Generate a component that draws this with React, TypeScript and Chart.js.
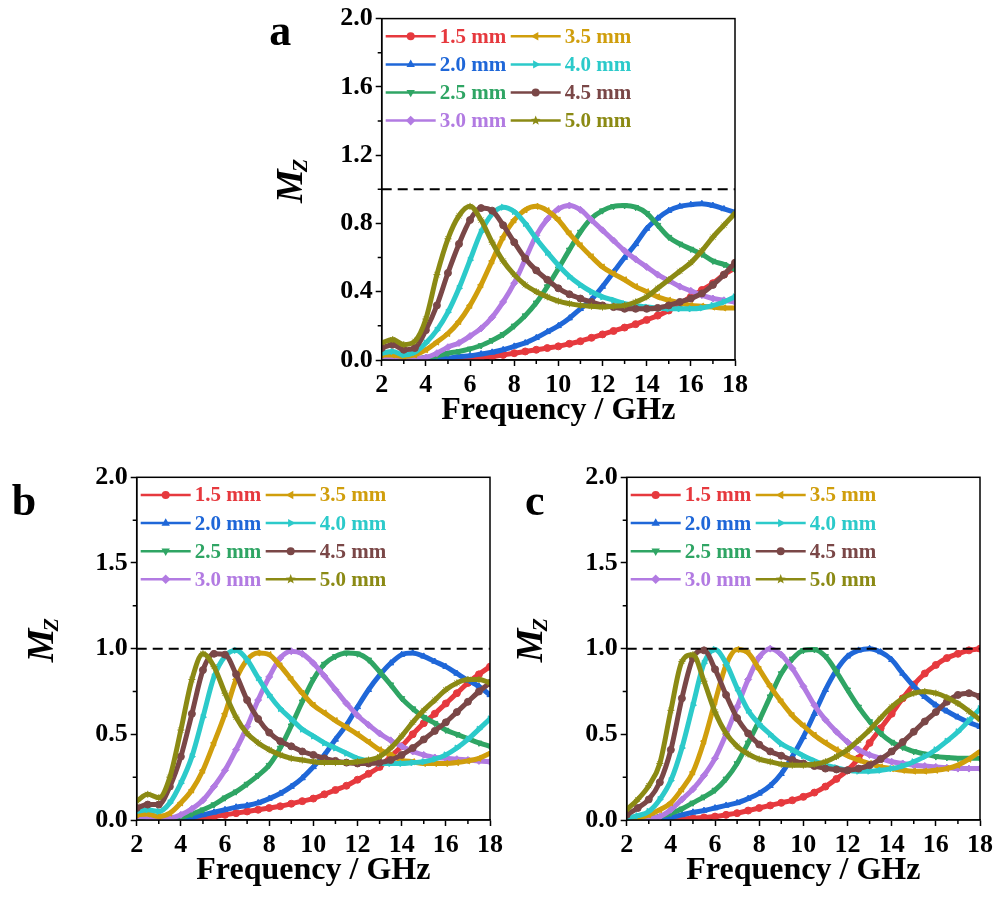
import React, { useEffect, useRef } from 'react';
import { Chart, registerables } from 'chart.js';

Chart.register(...registerables);

const SERIF = "'Times New Roman', 'Liberation Serif', serif";

// Frequency grid (GHz)
const FREQ_GHZ = [
  2, 2.5, 3, 3.5, 4, 4.5, 5, 5.5, 6, 6.5, 7, 7.5, 8, 8.5, 9, 9.5, 10,
  10.5, 11, 11.5, 12, 12.5, 13, 13.5, 14, 14.5, 15, 15.5, 16, 16.5, 17, 17.5, 18,
];

const THICKNESS_LABELS = ['1.5 mm', '2.0 mm', '2.5 mm', '3.0 mm', '3.5 mm', '4.0 mm', '4.5 mm', '5.0 mm'];

const X_MIN = 2;
const X_MAX = 18;
const Y_MIN = 0;
const Y_MAX = 2;

// Reference level Mz = 1
const UNITY_LINE_X = [2, 18];
const UNITY_LINE_Y = [1, 1];

// Panel a
const A_15 = [0, 0, 0, 0, 0, 0, 0.005, 0.008, 0.012, 0.016, 0.02, 0.03, 0.04, 0.05, 0.06, 0.07, 0.08, 0.095, 0.11, 0.13, 0.15, 0.17, 0.19, 0.21, 0.235, 0.26, 0.29, 0.33, 0.37, 0.41, 0.45, 0.5, 0.54];
const A_20 = [0, 0, 0, 0, 0, 0.005, 0.01, 0.02, 0.025, 0.035, 0.045, 0.06, 0.08, 0.1, 0.13, 0.165, 0.2, 0.245, 0.3, 0.355, 0.43, 0.515, 0.6, 0.68, 0.77, 0.83, 0.875, 0.9, 0.91, 0.915, 0.905, 0.885, 0.865];
const A_25 = [0.01, 0.01, 0, 0.005, 0.015, 0.025, 0.04, 0.05, 0.065, 0.085, 0.115, 0.15, 0.2, 0.26, 0.335, 0.43, 0.535, 0.645, 0.75, 0.83, 0.875, 0.9, 0.905, 0.895, 0.86, 0.79, 0.72, 0.68, 0.65, 0.62, 0.58, 0.56, 0.53];
const A_30 = [0.02, 0.015, 0.01, 0.01, 0.015, 0.04, 0.075, 0.1, 0.14, 0.185, 0.25, 0.34, 0.45, 0.59, 0.73, 0.825, 0.885, 0.905, 0.88, 0.82, 0.76, 0.7, 0.64, 0.59, 0.545, 0.5, 0.465, 0.43, 0.405, 0.38, 0.36, 0.35, 0.34];
const A_35 = [0.03, 0.03, 0.02, 0.03, 0.06, 0.105, 0.155, 0.225, 0.32, 0.44, 0.58, 0.72, 0.82, 0.88, 0.9, 0.875, 0.82, 0.74, 0.67, 0.605, 0.545, 0.505, 0.47, 0.43, 0.4, 0.37, 0.35, 0.335, 0.32, 0.315, 0.31, 0.305, 0.305];
const A_40 = [0.04, 0.05, 0.03, 0.045, 0.1, 0.175, 0.28, 0.42, 0.585, 0.75, 0.855, 0.895, 0.87, 0.8, 0.71, 0.63, 0.555, 0.49, 0.44, 0.4, 0.37, 0.35, 0.33, 0.32, 0.31, 0.305, 0.3, 0.3, 0.3, 0.305, 0.32, 0.34, 0.37];
const A_45 = [0.07, 0.09, 0.06, 0.07, 0.175, 0.32, 0.51, 0.68, 0.82, 0.89, 0.875, 0.79, 0.69, 0.595, 0.525, 0.47, 0.42, 0.385, 0.36, 0.34, 0.32, 0.31, 0.3, 0.3, 0.3, 0.305, 0.32, 0.34, 0.36, 0.39, 0.44, 0.5, 0.57];
const A_50 = [0.1, 0.12, 0.09, 0.11, 0.24, 0.5, 0.71, 0.845, 0.9, 0.82, 0.69, 0.58, 0.5, 0.44, 0.4, 0.37, 0.345, 0.33, 0.32, 0.315, 0.31, 0.315, 0.32, 0.34, 0.37, 0.42, 0.47, 0.52, 0.57, 0.64, 0.72, 0.79, 0.86];

// Panel b
const B_15 = [0, 0, 0, 0, 0, 0.005, 0.01, 0.02, 0.03, 0.04, 0.05, 0.06, 0.07, 0.08, 0.095, 0.11, 0.125, 0.15, 0.175, 0.2, 0.235, 0.27, 0.31, 0.37, 0.43, 0.5, 0.565, 0.62, 0.68, 0.74, 0.8, 0.85, 0.895];
const B_20 = [0, 0, 0, 0, 0.005, 0.015, 0.03, 0.045, 0.06, 0.075, 0.085, 0.1, 0.125, 0.155, 0.195, 0.245, 0.31, 0.38, 0.47, 0.555, 0.66, 0.76, 0.845, 0.915, 0.965, 0.975, 0.955, 0.925, 0.895, 0.855, 0.815, 0.78, 0.73];
const B_25 = [0.01, 0.01, 0, 0.005, 0.015, 0.035, 0.06, 0.09, 0.13, 0.165, 0.21, 0.26, 0.32, 0.42, 0.55, 0.69, 0.82, 0.91, 0.955, 0.975, 0.97, 0.935, 0.865, 0.79, 0.71, 0.65, 0.6, 0.565, 0.525, 0.5, 0.475, 0.45, 0.43];
const B_30 = [0.02, 0.015, 0.005, 0.01, 0.03, 0.065, 0.115, 0.195, 0.29, 0.41, 0.545, 0.7, 0.835, 0.945, 0.985, 0.97, 0.915, 0.84, 0.76, 0.68, 0.61, 0.555, 0.505, 0.465, 0.43, 0.4, 0.38, 0.365, 0.36, 0.355, 0.35, 0.345, 0.34];
const B_35 = [0.03, 0.035, 0.02, 0.04, 0.1, 0.175, 0.29, 0.45, 0.62, 0.82, 0.935, 0.975, 0.965, 0.9, 0.82, 0.74, 0.67, 0.625, 0.58, 0.54, 0.5, 0.455, 0.41, 0.38, 0.35, 0.34, 0.33, 0.33, 0.33, 0.335, 0.345, 0.36, 0.39];
const B_40 = [0.05, 0.06, 0.05, 0.1, 0.215, 0.37, 0.6, 0.835, 0.955, 0.99, 0.935, 0.83, 0.73, 0.65, 0.59, 0.53, 0.49, 0.45, 0.42, 0.39, 0.36, 0.345, 0.33, 0.33, 0.33, 0.335, 0.34, 0.355, 0.38, 0.42, 0.47, 0.53, 0.59];
const B_45 = [0.07, 0.09, 0.09, 0.195, 0.37, 0.62, 0.875, 0.97, 0.965, 0.85, 0.7, 0.59, 0.51, 0.46, 0.43, 0.4, 0.38, 0.36, 0.345, 0.335, 0.33, 0.33, 0.335, 0.35, 0.38, 0.42, 0.47, 0.52, 0.57, 0.63, 0.69, 0.75, 0.8];
const B_50 = [0.11, 0.15, 0.13, 0.25, 0.525, 0.82, 0.97, 0.895, 0.74, 0.6, 0.505, 0.45, 0.41, 0.38, 0.36, 0.35, 0.34, 0.335, 0.335, 0.335, 0.34, 0.35, 0.37, 0.42, 0.49, 0.57, 0.64, 0.7, 0.76, 0.8, 0.82, 0.82, 0.8];

// Panel c
const C_15 = [0, 0, 0, 0, 0.002, 0.005, 0.01, 0.015, 0.02, 0.03, 0.04, 0.055, 0.07, 0.085, 0.1, 0.115, 0.135, 0.16, 0.195, 0.24, 0.29, 0.36, 0.45, 0.535, 0.62, 0.71, 0.79, 0.855, 0.905, 0.945, 0.97, 0.99, 1.0];
const C_20 = [0, 0, 0, 0.005, 0.015, 0.03, 0.045, 0.055, 0.07, 0.085, 0.1, 0.125, 0.155, 0.2, 0.27, 0.37, 0.485, 0.62, 0.76, 0.875, 0.955, 0.99, 1.0, 0.98, 0.935, 0.855, 0.78, 0.72, 0.67, 0.635, 0.6, 0.57, 0.545];
const C_25 = [0, 0.005, 0.01, 0.02, 0.04, 0.065, 0.1, 0.135, 0.175, 0.24, 0.33, 0.45, 0.58, 0.72, 0.855, 0.94, 0.99, 0.995, 0.955, 0.865, 0.76, 0.66, 0.575, 0.505, 0.455, 0.425, 0.4, 0.385, 0.37, 0.365, 0.36, 0.36, 0.36];
const C_30 = [0, 0.005, 0.01, 0.02, 0.06, 0.12, 0.18, 0.26, 0.36, 0.5, 0.66, 0.82, 0.95, 1.0, 0.965, 0.885, 0.78, 0.67, 0.585, 0.515, 0.455, 0.41, 0.38, 0.36, 0.34, 0.33, 0.32, 0.315, 0.31, 0.305, 0.3, 0.3, 0.3];
const C_35 = [0, 0.01, 0.03, 0.06, 0.1, 0.18, 0.28, 0.46, 0.69, 0.905, 0.995, 0.975, 0.88, 0.78, 0.69, 0.61, 0.55, 0.495, 0.45, 0.41, 0.375, 0.35, 0.33, 0.31, 0.3, 0.29, 0.285, 0.285, 0.29, 0.3, 0.32, 0.355, 0.4];
const C_40 = [0.01, 0.025, 0.05, 0.12, 0.23, 0.42, 0.67, 0.915, 0.995, 0.915, 0.77, 0.64, 0.56, 0.5, 0.445, 0.41, 0.375, 0.345, 0.32, 0.305, 0.29, 0.285, 0.285, 0.29, 0.3, 0.315, 0.34, 0.37, 0.41, 0.46, 0.515, 0.58, 0.65];
const C_45 = [0.03, 0.07, 0.12, 0.22, 0.41, 0.71, 0.945, 0.99, 0.88, 0.73, 0.595, 0.505, 0.44, 0.4, 0.375, 0.35, 0.33, 0.315, 0.3, 0.295, 0.29, 0.3, 0.32, 0.355, 0.4, 0.455, 0.515, 0.575, 0.63, 0.69, 0.73, 0.74, 0.72];
const C_50 = [0.06, 0.12, 0.2, 0.33, 0.64, 0.925, 0.965, 0.81, 0.63, 0.505, 0.43, 0.385, 0.355, 0.34, 0.325, 0.32, 0.32, 0.325, 0.34, 0.37, 0.41, 0.465, 0.525, 0.595, 0.66, 0.71, 0.74, 0.75, 0.74, 0.715, 0.68, 0.635, 0.585];

const PANEL_A = [A_15, A_20, A_25, A_30, A_35, A_40, A_45, A_50];
const PANEL_B = [B_15, B_20, B_25, B_30, B_35, B_40, B_45, B_50];
const PANEL_C = [C_15, C_20, C_25, C_30, C_35, C_40, C_45, C_50];

// Series styling
const SERIES_COLORS = ['#E6393E', '#1F67D8', '#2FA564', '#B27BE2', '#D09E0C', '#2CCACA', '#7A4747', '#8B8A14'];
const SERIES_MARKERS = [
  { style: 'circle', rotation: 0 },
  { style: 'triangle', rotation: 0 },
  { style: 'triangle', rotation: 180 },
  { style: 'rectRot', rotation: 0 },
  { style: 'triangle', rotation: -90 },
  { style: 'triangle', rotation: 90 },
  { style: 'circle', rotation: 0 },
  { style: 'star', rotation: 0 },
];

type PanelSpec = {
  letter: string;
  series: number[][];
  yStep: number;
  left: number;
  top: number;
  width: number;
  height: number;
  axisWidth: number;
  padTop: number;
  padRight: number;
  titleOffset: number;
  letterX: number;
  letterY: number;
};

const PANELS: PanelSpec[] = [
  { letter: 'a', series: PANEL_A, yStep: 0.4, left: 250, top: 0, width: 510, height: 450, axisWidth: 131.7, padTop: 17.3, padRight: 25, titleOffset: 80, letterX: 19.3, letterY: 45 },
  { letter: 'b', series: PANEL_B, yStep: 0.5, left: 0, top: 455, width: 510, height: 455, axisWidth: 136.7, padTop: 22.3, padRight: 20, titleOffset: 83.5, letterX: 11.7, letterY: 60 },
  { letter: 'c', series: PANEL_C, yStep: 0.5, left: 500, top: 455, width: 498, height: 455, axisWidth: 126.7, padTop: 22.3, padRight: 18, titleOffset: 84.5, letterX: 25, letterY: 60 },
];

function drawMarker(ctx: CanvasRenderingContext2D, style: string, rotation: number, x: number, y: number, r: number) {
  ctx.save();
  ctx.translate(x, y);
  ctx.rotate((rotation * Math.PI) / 180);
  ctx.beginPath();
  if (style === 'circle') {
    ctx.arc(0, 0, r, 0, Math.PI * 2);
  } else if (style === 'triangle') {
    ctx.moveTo(0, -r * 1.2);
    ctx.lineTo(r * 1.05, r * 0.65);
    ctx.lineTo(-r * 1.05, r * 0.65);
    ctx.closePath();
  } else if (style === 'rectRot') {
    ctx.moveTo(0, -r * 1.2);
    ctx.lineTo(r * 1.2, 0);
    ctx.lineTo(0, r * 1.2);
    ctx.lineTo(-r * 1.2, 0);
    ctx.closePath();
  } else {
    for (let k = 0; k < 10; k++) {
      const ang = -Math.PI / 2 + (k * Math.PI) / 5;
      const rr = k % 2 === 0 ? r * 1.3 : r * 0.55;
      const px = Math.cos(ang) * rr;
      const py = Math.sin(ang) * rr;
      if (k === 0) ctx.moveTo(px, py);
      else ctx.lineTo(px, py);
    }
    ctx.closePath();
  }
  ctx.fill();
  ctx.restore();
}

function makeDecorPlugin(spec: PanelSpec) {
  return {
    id: 'panelDecor',
    afterDraw(chart: any) {
      const { ctx, chartArea: a, scales } = chart;
      const xs = scales.x;
      const ys = scales.y;
      ctx.save();

      // plot frame
      ctx.strokeStyle = '#000';
      ctx.lineWidth = 1.5;
      ctx.strokeRect(a.left, a.top, a.right - a.left, a.bottom - a.top);

      // minor ticks
      ctx.beginPath();
      for (let v = X_MIN + 1; v < X_MAX; v += 2) {
        const px = xs.getPixelForValue(v);
        ctx.moveTo(px, a.bottom);
        ctx.lineTo(px, a.bottom + 4);
      }
      const half = spec.yStep / 2;
      for (let v = half; v < Y_MAX; v += spec.yStep) {
        const py = ys.getPixelForValue(v);
        ctx.moveTo(a.left, py);
        ctx.lineTo(a.left - 4, py);
      }
      ctx.stroke();

      // legend: two columns of four entries
      ctx.font = `bold 21px ${SERIF}`;
      ctx.textAlign = 'left';
      ctx.textBaseline = 'middle';
      THICKNESS_LABELS.forEach((label, i) => {
        const col = Math.floor(i / 4);
        const row = i % 4;
        const x0 = a.left + (col === 0 ? 4 : 129);
        const x1 = x0 + 50;
        const y = a.top + 17.7 + row * 28.1;
        const color = SERIES_COLORS[i];
        ctx.strokeStyle = color;
        ctx.fillStyle = color;
        ctx.lineWidth = 2.5;
        ctx.beginPath();
        ctx.moveTo(x0, y);
        ctx.lineTo(x1, y);
        ctx.stroke();
        drawMarker(ctx, SERIES_MARKERS[i].style, SERIES_MARKERS[i].rotation, (x0 + x1) / 2, y, 4);
        ctx.fillText(label, x1 + 4, y + 1);
      });

      // y-axis title: M with subscript Z
      ctx.fillStyle = '#000';
      ctx.save();
      ctx.translate(a.left - spec.titleOffset, (a.top + a.bottom) / 2 - 10);
      ctx.rotate(-Math.PI / 2);
      ctx.textBaseline = 'alphabetic';
      ctx.textAlign = 'left';
      ctx.font = `italic bold 38px ${SERIF}`;
      const wM = ctx.measureText('M').width;
      ctx.font = `italic bold 22px ${SERIF}`;
      const wZ = ctx.measureText('Z').width;
      const start = -(wM + wZ) / 2;
      ctx.font = `italic bold 38px ${SERIF}`;
      ctx.fillText('M', start, 0);
      ctx.font = `italic bold 22px ${SERIF}`;
      ctx.fillText('Z', start + wM - 3, 5);
      ctx.restore();

      // panel letter
      ctx.font = `bold 44px ${SERIF}`;
      ctx.textBaseline = 'alphabetic';
      ctx.textAlign = 'left';
      ctx.fillText(spec.letter, spec.letterX, spec.letterY);

      ctx.restore();
    },
  };
}

function Panel({ spec }: { spec: PanelSpec }) {
  const ref = useRef<HTMLCanvasElement | null>(null);

  useEffect(() => {
    const canvas = ref.current;
    if (!canvas) return;

    const datasets: any[] = spec.series.map((vals, i) => ({
      label: THICKNESS_LABELS[i],
      data: FREQ_GHZ.map((f, k) => ({ x: f, y: vals[k] })),
      borderColor: SERIES_COLORS[i],
      backgroundColor: SERIES_COLORS[i],
      borderWidth: 5,
      pointStyle: SERIES_MARKERS[i].style,
      pointRotation: SERIES_MARKERS[i].rotation,
      pointRadius: 3.5,
      pointBorderWidth: 1,
      pointBackgroundColor: SERIES_COLORS[i],
      pointBorderColor: SERIES_COLORS[i],
      cubicInterpolationMode: 'monotone',
      order: 7 - i,
    }));
    datasets.push({
      label: 'Mz = 1',
      data: UNITY_LINE_X.map((x, k) => ({ x, y: UNITY_LINE_Y[k] })),
      borderColor: '#000',
      borderWidth: 2,
      borderDash: [10, 6],
      pointRadius: 0,
      order: -1,
    });

    const tickFont = { family: SERIF, size: 26, weight: 'bold' as const };

    const chart = new Chart(canvas, {
      type: 'line',
      data: { datasets },
      plugins: [makeDecorPlugin(spec)],
      options: {
        animation: false,
        responsive: false,
        devicePixelRatio: 1,
        layout: { padding: { top: spec.padTop, right: spec.padRight, left: 0, bottom: 0 } },
        plugins: { legend: { display: false }, tooltip: { enabled: false } },
        scales: {
          x: {
            type: 'linear',
            position: 'bottom',
            min: X_MIN,
            max: X_MAX,
            afterFit: (s: any) => {
              s.height = 90;
            },
            ticks: {
              stepSize: 2,
              autoSkip: false,
              maxRotation: 0,
              padding: 4,
              color: '#000',
              font: tickFont,
              callback: (v: any) => String(v),
            },
            grid: {
              drawOnChartArea: false,
              drawTicks: true,
              tickLength: 6,
              tickWidth: 1.5,
              tickColor: '#000',
              color: '#000',
            },
            border: { display: true, color: '#000', width: 1.5 },
            title: {
              display: true,
              text: 'Frequency / GHz',
              color: '#000',
              font: { family: SERIF, size: 32, weight: 'bold' },
              padding: { top: 0, bottom: 20 },
            },
          },
          y: {
            type: 'linear',
            position: 'left',
            min: Y_MIN,
            max: Y_MAX,
            afterFit: (s: any) => {
              s.width = spec.axisWidth;
            },
            ticks: {
              stepSize: spec.yStep,
              autoSkip: false,
              padding: 3,
              color: '#000',
              font: tickFont,
              callback: (v: any) => Number(v).toFixed(1),
            },
            grid: {
              drawOnChartArea: false,
              drawTicks: true,
              tickLength: 6,
              tickWidth: 1.5,
              tickColor: '#000',
              color: '#000',
            },
            border: { display: true, color: '#000', width: 1.5 },
          },
        },
      } as any,
    });

    return () => chart.destroy();
  }, [spec]);

  return (
    <canvas
      ref={ref}
      width={spec.width}
      height={spec.height}
      style={{ position: 'absolute', left: spec.left, top: spec.top, width: spec.width, height: spec.height }}
    />
  );
}

export default function App() {
  return (
    <div style={{ position: 'fixed', left: 0, top: 0, width: 998, height: 910, background: '#fff', overflow: 'hidden' }}>
      {PANELS.map((p) => (
        <Panel key={p.letter} spec={p} />
      ))}
    </div>
  );
}
